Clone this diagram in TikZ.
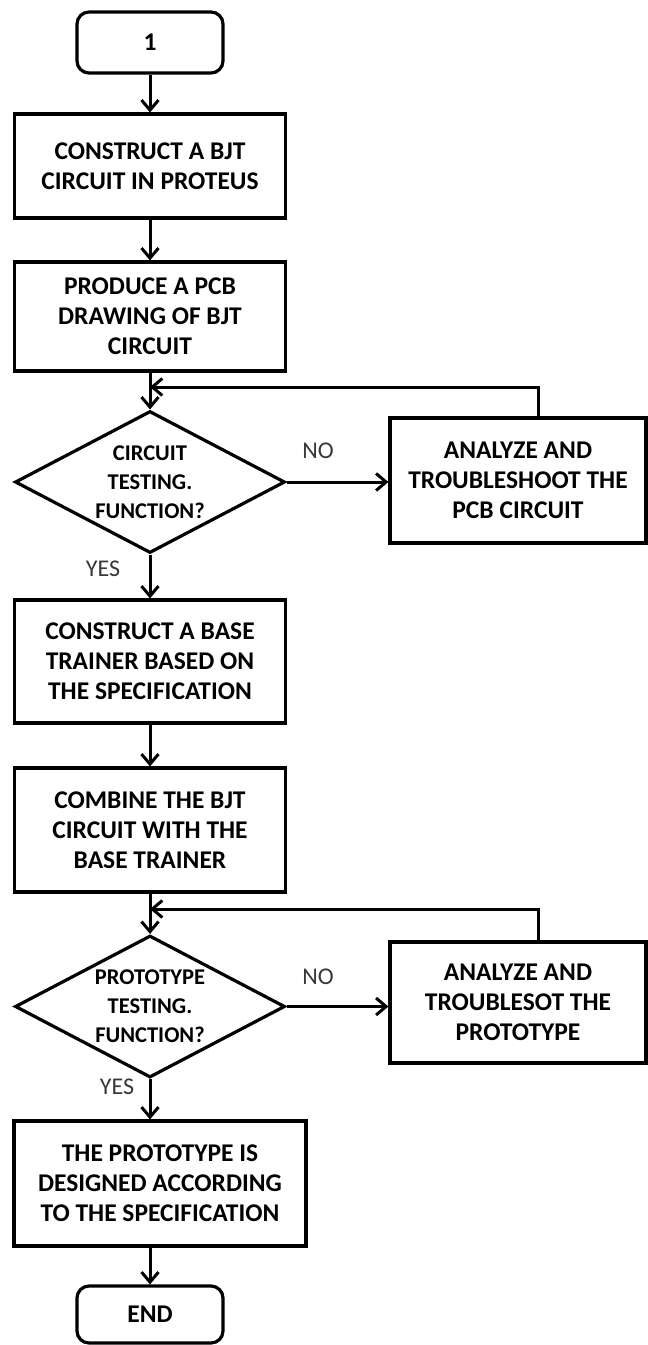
\documentclass[tikz,border=0pt]{standalone}
\usepackage{fontspec}
\setmainfont{Carlito}
\usetikzlibrary{arrows.meta,shapes.geometric}
\definecolor{labelGray}{RGB}{55,55,55}
\tikzset{
  stepbox/.style={draw,line width=3.2pt,minimum width=271pt,inner sep=0pt,align=center,font=\bfseries\fontsize{25.5}{30}\selectfont},
  termbox/.style={draw,line width=3.2pt,rounded corners=12pt,minimum width=146pt,inner sep=0pt,font=\bfseries\fontsize{25.5}{30}\selectfont},
  fixbox/.style={stepbox,minimum width=256pt},
  decision/.style={draw,diamond,aspect=1.9,line width=3.2pt,minimum width=270pt,minimum height=142pt,inner sep=0pt,align=center,font=\bfseries\fontsize{22.5}{29}\selectfont},
  flow/.style={line width=3pt,-{Straight Barb[length=10pt,width=17pt]}},
  answer/.style={text=labelGray,inner sep=0pt,font=\fontsize{24}{28}\selectfont}
}
\begin{document}
\begin{tikzpicture}[x=1pt,y=-1pt]
\useasboundingbox (0,0) rectangle (648,1345);
\node[termbox,minimum height=61pt] (start) at (150,42.5) {1};
\node[stepbox,minimum height=104pt] (bjt) at (150,166) {CONSTRUCT A BJT\\CIRCUIT IN PROTEUS};
\node[stepbox,minimum height=109pt] (pcb) at (150,316.5) {PRODUCE A PCB\\DRAWING OF BJT\\CIRCUIT};
\node[decision] (testpcb) at (150,482) {CIRCUIT\\TESTING.\\FUNCTION?};
\node[fixbox,minimum height=125pt] (fixpcb) at (518,480.5) {ANALYZE AND\\TROUBLESHOOT THE\\PCB CIRCUIT};
\node[stepbox,minimum height=123pt] (trainer) at (150,661.5) {CONSTRUCT A BASE\\TRAINER BASED ON\\THE SPECIFICATION};
\node[stepbox,minimum height=124pt] (combine) at (150,830) {COMBINE THE BJT\\CIRCUIT WITH THE\\BASE TRAINER};
\node[decision] (testproto) at (150,1006.5) {PROTOTYPE\\TESTING.\\FUNCTION?};
\node[fixbox,minimum height=121pt] (fixproto) at (518,1002.5) {ANALYZE AND\\TROUBLESOT THE\\PROTOTYPE};
\node[stepbox,minimum width=292pt,minimum height=125pt] (done) at (160,1183.5) {THE PROTOTYPE IS\\DESIGNED ACCORDING\\TO THE SPECIFICATION};
\node[termbox,minimum height=57pt] (finish) at (150,1314.5) {END};
\node[answer] (nopcb) at (318,451) {NO};
\node[answer] (yespcb) at (103,569) {YES};
\node[answer] (noproto) at (318,977) {NO};
\node[answer] (yesproto) at (117,1087) {YES};
\coordinate (loopA) at (538,387);
\coordinate (backpcb) at (150,387);
\coordinate (loopB) at (538,909);
\coordinate (backproto) at (150,909);
\draw[flow] (start) -- (bjt);
\draw[flow] (bjt) -- (pcb);
\draw[flow] (pcb) -- (testpcb);
\draw[flow] (testpcb.east) -- (testpcb.east -| fixpcb.west);
\draw[flow] (loopA |- fixpcb.north) -- (loopA) -- (backpcb);
\draw[flow] (testpcb) -- (trainer);
\draw[flow] (trainer) -- (combine);
\draw[flow] (combine) -- (testproto);
\draw[flow] (testproto.east) -- (testproto.east -| fixproto.west);
\draw[flow] (loopB |- fixproto.north) -- (loopB) -- (backproto);
\draw[flow] (testproto) -- (testproto |- done.north);
\draw[flow] (done.south -| finish) -- (finish);
\end{tikzpicture}
\end{document}
